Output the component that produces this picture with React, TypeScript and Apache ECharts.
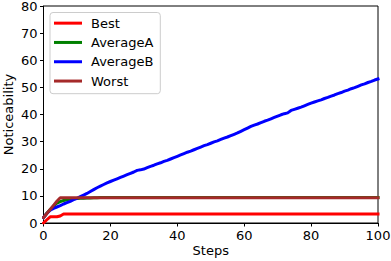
import React, { useEffect, useRef } from "react";
import * as echarts from "echarts";

const steps: number[] = Array.from({ length: 101 }, (_, i) => i);

const xTicks = [0, 20, 40, 60, 80, 100];
const yTicks = [0, 10, 20, 30, 40, 50, 60, 70, 80];

const best: number[] = [
  0.0, 1.2, 2.3, 2.3, 2.3, 2.6, 3.3, 3.3, 3.3, 3.3,
  3.3, 3.3, 3.3, 3.3, 3.3, 3.3, 3.3, 3.3, 3.3, 3.3,
  3.3, 3.3, 3.3, 3.3, 3.3, 3.3, 3.3, 3.3, 3.3, 3.3,
  3.3, 3.3, 3.3, 3.3, 3.3, 3.3, 3.3, 3.3, 3.3, 3.3,
  3.3, 3.3, 3.3, 3.3, 3.3, 3.3, 3.3, 3.3, 3.3, 3.3,
  3.3, 3.3, 3.3, 3.3, 3.3, 3.3, 3.3, 3.3, 3.3, 3.3,
  3.3, 3.3, 3.3, 3.3, 3.3, 3.3, 3.3, 3.3, 3.3, 3.3,
  3.3, 3.3, 3.3, 3.3, 3.3, 3.3, 3.3, 3.3, 3.3, 3.3,
  3.3, 3.3, 3.3, 3.3, 3.3, 3.3, 3.3, 3.3, 3.3, 3.3,
  3.3, 3.3, 3.3, 3.3, 3.3, 3.3, 3.3, 3.3, 3.3, 3.3,
  3.3,
];

const averageA: number[] = [
  2.0, 3.6, 5.0, 6.3, 7.3, 7.9, 8.3, 8.6, 8.8, 8.9,
  9.0, 9.1, 9.15, 9.2, 9.25, 9.3, 9.35, 9.4, 9.4, 9.4,
  9.4, 9.4, 9.4, 9.4, 9.4, 9.4, 9.4, 9.4, 9.4, 9.4,
  9.4, 9.4, 9.4, 9.4, 9.4, 9.4, 9.4, 9.4, 9.4, 9.4,
  9.4, 9.4, 9.4, 9.4, 9.4, 9.4, 9.4, 9.4, 9.4, 9.4,
  9.4, 9.4, 9.4, 9.4, 9.4, 9.4, 9.4, 9.4, 9.4, 9.4,
  9.4, 9.4, 9.4, 9.4, 9.4, 9.4, 9.4, 9.4, 9.4, 9.4,
  9.4, 9.4, 9.4, 9.4, 9.4, 9.4, 9.4, 9.4, 9.4, 9.4,
  9.4, 9.4, 9.4, 9.4, 9.4, 9.4, 9.4, 9.4, 9.4, 9.4,
  9.4, 9.4, 9.4, 9.4, 9.4, 9.4, 9.4, 9.4, 9.4, 9.4,
  9.4,
];

const averageB: number[] = [
  2.0, 3.5, 4.7, 5.4, 5.9, 6.4, 7.0, 7.5, 8.0, 8.6,
  9.1, 9.7, 10.3, 10.9, 11.6, 12.3, 13.0, 13.6, 14.2, 14.8,
  15.3, 15.8, 16.3, 16.8, 17.3, 17.8, 18.3, 18.8, 19.4, 19.6,
  19.9, 20.4, 20.9, 21.3, 21.8, 22.2, 22.7, 23.1, 23.6, 24.1,
  24.6, 25.1, 25.6, 26.1, 26.5, 27.0, 27.5, 28.0, 28.5, 28.9,
  29.4, 29.9, 30.3, 30.8, 31.3, 31.7, 32.2, 32.7, 33.2, 33.8,
  34.4, 35.0, 35.6, 36.1, 36.5, 37.0, 37.5, 37.9, 38.4, 38.9,
  39.4, 39.9, 40.3, 40.6, 41.5, 41.9, 42.3, 42.7, 43.2, 43.7,
  44.2, 44.6, 45.0, 45.4, 45.9, 46.3, 46.8, 47.2, 47.7, 48.1,
  48.6, 49.0, 49.5, 49.9, 50.4, 50.9, 51.3, 51.8, 52.2, 52.7,
  53.1,
];

const worst: number[] = [
  2.0, 3.5, 5.0, 6.5, 8.0, 9.3, 9.3, 9.3, 9.3, 9.3,
  9.3, 9.3, 9.3, 9.3, 9.3, 9.3, 9.3, 9.3, 9.3, 9.3,
  9.3, 9.3, 9.3, 9.3, 9.3, 9.3, 9.3, 9.3, 9.3, 9.3,
  9.3, 9.3, 9.3, 9.3, 9.3, 9.3, 9.3, 9.3, 9.3, 9.3,
  9.3, 9.3, 9.3, 9.3, 9.3, 9.3, 9.3, 9.3, 9.3, 9.3,
  9.3, 9.3, 9.3, 9.3, 9.3, 9.3, 9.3, 9.3, 9.3, 9.3,
  9.3, 9.3, 9.3, 9.3, 9.3, 9.3, 9.3, 9.3, 9.3, 9.3,
  9.3, 9.3, 9.3, 9.3, 9.3, 9.3, 9.3, 9.3, 9.3, 9.3,
  9.3, 9.3, 9.3, 9.3, 9.3, 9.3, 9.3, 9.3, 9.3, 9.3,
  9.3, 9.3, 9.3, 9.3, 9.3, 9.3, 9.3, 9.3, 9.3, 9.3,
  9.3,
];

const seriesNames = ["Best", "AverageA", "AverageB", "Worst"];
const seriesColors = ["#ff0000", "#008000", "#0000ff", "#a52a2a"];
const seriesData = [best, averageA, averageB, worst];

const FONT = "DejaVu Sans";

export default function App() {
  const ref = useRef<HTMLDivElement>(null);
  useEffect(() => {
    if (!ref.current) return;
    const chart = echarts.init(ref.current, undefined, { renderer: "svg" });
    chart.setOption({
      animation: false,
      backgroundColor: "#ffffff",
      textStyle: { fontFamily: FONT },
      grid: {
        left: 43.5,
        top: 6,
        width: 334.5,
        height: 217,
        containLabel: false,
        outerBoundsMode: "none",
        show: true,
        borderColor: "#000",
        borderWidth: 1,
        backgroundColor: "transparent",
      },
      legend: {
        orient: "vertical",
        left: 50,
        top: 12.5,
        data: seriesNames,
        icon: "rect",
        itemWidth: 28,
        itemHeight: 3,
        itemGap: 4,
        padding: [3, 7, 5, 4],
        borderColor: "#cccccc",
        borderWidth: 1,
        borderRadius: 3,
        backgroundColor: "rgba(255,255,255,0.8)",
        textStyle: {
          fontFamily: FONT,
          fontSize: 13,
          color: "#000",
          lineHeight: 15.3,
          padding: [0, 0, 0, 4],
        },
      },
      xAxis: {
        type: "value",
        min: 0,
        max: 100,
        interval: 20,
        name: "Steps",
        nameLocation: "middle",
        nameGap: 21,
        nameMoveOverlap: false,
        nameTextStyle: { fontFamily: FONT, fontSize: 13, color: "#000" },
        axisLine: { show: true, onZero: false, lineStyle: { color: "#000", width: 1 } },
        axisTick: { show: true, length: 3.5, lineStyle: { color: "#000", width: 1 } },
        axisLabel: {
          fontFamily: FONT,
          fontSize: 13,
          color: "#000",
          margin: 6,
          formatter: (v: number) => (xTicks.includes(v) ? String(v) : ""),
        },
        splitLine: { show: false },
      },
      yAxis: {
        type: "value",
        min: 0,
        max: 80,
        interval: 10,
        name: "Noticeability",
        nameLocation: "middle",
        nameGap: 28,
        nameMoveOverlap: false,
        nameTextStyle: { fontFamily: FONT, fontSize: 13, color: "#000", lineHeight: 14 },
        axisLine: { show: true, onZero: false, lineStyle: { color: "#000", width: 1 } },
        axisTick: { show: true, length: 3.5, lineStyle: { color: "#000", width: 1 } },
        axisLabel: {
          fontFamily: FONT,
          fontSize: 13,
          color: "#000",
          margin: 6,
          formatter: (v: number) => (yTicks.includes(v) ? String(v) : ""),
        },
        splitLine: { show: false },
      },
      series: seriesNames.map((name, i) => ({
        name,
        type: "line",
        data: steps.map((s, j) => [s, seriesData[i][j]]),
        showSymbol: false,
        symbol: "none",
        color: seriesColors[i],
        lineStyle: { color: seriesColors[i], width: 3, cap: "square", join: "round" },
        z: 2 + i,
      })),
    });
    return () => chart.dispose();
  }, []);
  return (
    <div
      ref={ref}
      style={{ position: "fixed", left: 0, top: 0, width: 391, height: 261 }}
    />
  );
}
